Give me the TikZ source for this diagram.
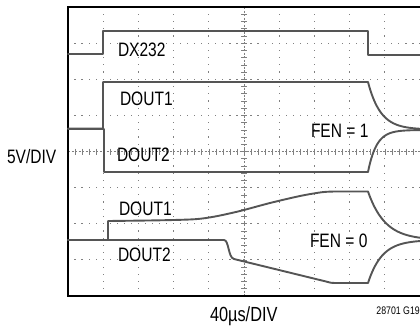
\documentclass[tikz,border=0pt]{standalone}
\usepackage{fontspec}
\setmainfont{Liberation Sans}[FakeStretch=0.8]
\definecolor{tracegray}{HTML}{555555}
\definecolor{dotgray}{HTML}{808080}
\begin{document}
\begin{tikzpicture}[x=1bp,y=-1bp,
  trace/.style={draw=tracegray, line width=1.9bp, line join=round, line cap=round},
  framestyle/.style={draw=black, line width=1.5bp},
  lbl/.style={anchor=base west, inner sep=0pt, outer sep=0pt, font=\fontsize{19.5}{21}\selectfont},
  tickline/.style={draw=dotgray, line width=0.6bp}]
\useasboundingbox (0,0) rectangle (420,327);
% grid dots
\foreach \i in {1,2,3,4,6,7,8,9}{
  \foreach \j in {0,...,40}{
    \fill[dotgray] ({68+35.2*\i-0.6},{7+7.225*\j-0.6}) rectangle ++(1.2,1.2);
  }
}
\foreach \k in {1,2,3,5,6,7}{
  \foreach \m in {0,...,50}{
    \fill[dotgray] ({68+7.04*\m-0.6},{7+36.125*\k-0.6}) rectangle ++(1.2,1.2);
  }
}
% center lines with ticks
\draw[tickline, dash pattern=on 2bp off 1.5bp] (244,7) -- (244,296);
\draw[tickline, dash pattern=on 2bp off 1.5bp] (68,151.5) -- (420,151.5);
\foreach \j in {0,...,40}{
  \draw[tickline] (241,{7+7.225*\j}) -- (247,{7+7.225*\j});
}
\foreach \m in {0,...,50}{
  \draw[tickline] ({68+7.04*\m},148.5) -- ({68+7.04*\m},154.5);
}
% frame
\draw[framestyle] (420,7) -- (68,7) -- (68,296) -- (420,296);
% traces
\draw[trace] (68,54) -- (103,54) -- (103,31) -- (368,31) -- (368,55) -- (420,55);
\draw[trace] (68,128.5) -- (103,128.5) -- (103,82) -- (368,82)
  -- plot[domain=0:52,samples=60] ({368+\x},{129.5-47.5*exp(-\x/12.5)});
\draw[trace] (68,129) -- (104,129) -- (104,172) -- (368,172)
  -- plot[domain=0:52,samples=60] ({368+\x},{130+42*exp(-\x/8.5)});
\draw[trace] (68,240) -- (108,240) -- (108,221)
  -- plot[smooth, tension=0.5] coordinates {(108,221) (160,220.3) (195,219.2) (215,216.5) (240,211) (270,203) (300,196) (322,192.2) (335,191.5)}
  -- (368,191.5)
  -- plot[domain=0:52,samples=60] ({368+\x},{240-48.5*exp(-\x/17)});
\draw[trace] (68,240) -- (224,240) .. controls (229,240) and (228,257.5) .. (234,259)
  -- (326,281.5) .. controls (329,282.5) and (331,283) .. (336,283) -- (368,283)
  -- plot[domain=0:52,samples=60] ({368+\x},{240+43*exp(-\x/14)});
% labels
\node[lbl] (lx) at (118,56.5) {DX232};
\node[lbl] (l1a) at (120,105.5) {DOUT1};
\node[lbl] (l2a) at (117,161.5) {DOUT2};
\node[lbl] (lf1) at (311,137) {FEN = 1};
\node[lbl] (l1b) at (119,215) {DOUT1};
\node[lbl] (l2b) at (118,261) {DOUT2};
\node[lbl] (lf0) at (310,247) {FEN = 0};
\node[lbl] (ly) at (7,163) {5V/DIV};
\node[lbl, font=\fontsize{20.5}{22}\selectfont] (lt) at (210,321.5) {40µs/DIV};
\node[anchor=base east, inner sep=0pt, font=\fontsize{11}{12}\selectfont] (lid) at (420,314) {28701 G19};
\end{tikzpicture}
\end{document}
